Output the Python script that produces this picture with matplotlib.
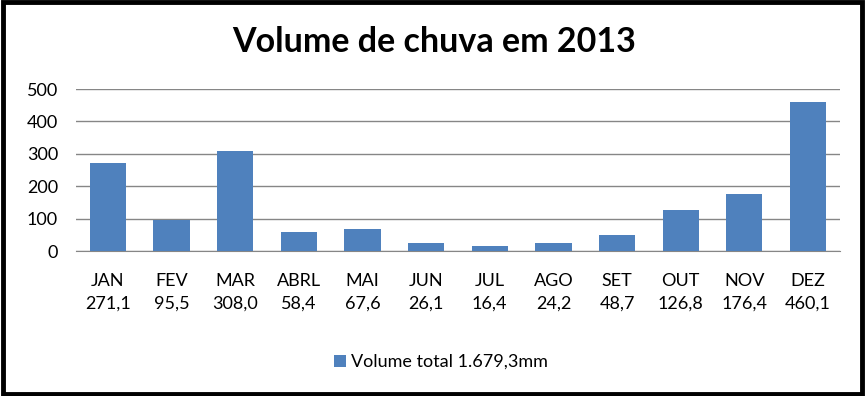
import matplotlib.pyplot as plt
from matplotlib.patches import Rectangle

# dados de chuva 2013
meses = ['JAN', 'FEV', 'MAR', 'ABRL', 'MAI', 'JUN', 'JUL', 'AGO', 'SET', 'OUT', 'NOV', 'DEZ']
volumes = [271.1, 95.5, 308.0, 58.4, 67.6, 26.1, 16.4, 24.2, 48.7, 126.8, 176.4, 460.1]
y_ticks = [0, 100, 200, 300, 400, 500]
titulo = 'Volume de chuva em 2013'
legenda = 'Volume total 1.679,3mm'

plt.rcParams['font.family'] = ['Lato', 'DejaVu Sans']

fig = plt.figure(figsize=(8.65, 3.96), dpi=100)
ax = fig.add_axes([0.0879, 0.366, 0.883, 0.409])

labels = [m + '\n' + ('%.1f' % v).replace('.', ',') for m, v in zip(meses, volumes)]
x = list(range(len(meses)))
ax.bar(x, volumes, width=0.57, color='#4F81BD', label=legenda, zorder=3)

ax.set_xlim(-0.5, len(meses) - 0.5)
ax.set_ylim(0, 500)
ax.set_yticks(y_ticks)
ax.set_xticks(x)
ax.set_xticklabels(labels, fontsize=13, linespacing=1.5)
ax.tick_params(axis='y', labelsize=13, length=0, pad=13)
ax.tick_params(axis='x', length=0, pad=16)
ax.grid(axis='y', color='#868686', linewidth=1, zorder=0)
for s in ['top', 'right', 'left']:
    ax.spines[s].set_visible(False)
ax.spines['bottom'].set_color('#868686')

fig.text(0.502, 0.894, titulo, ha='center', va='center', fontsize=24.5, fontweight='bold')

fig.legend(loc='center', bbox_to_anchor=(0.51, 0.086), frameon=False, fontsize=13,
           handlelength=0.65, handleheight=0.65, handletextpad=0.3)

# moldura preta
fig.patches.append(Rectangle((0.003, 0.005), 0.994, 0.99, transform=fig.transFigure,
                             fill=False, edgecolor='black', linewidth=3.5))

fig.savefig('out.png', dpi=100)
